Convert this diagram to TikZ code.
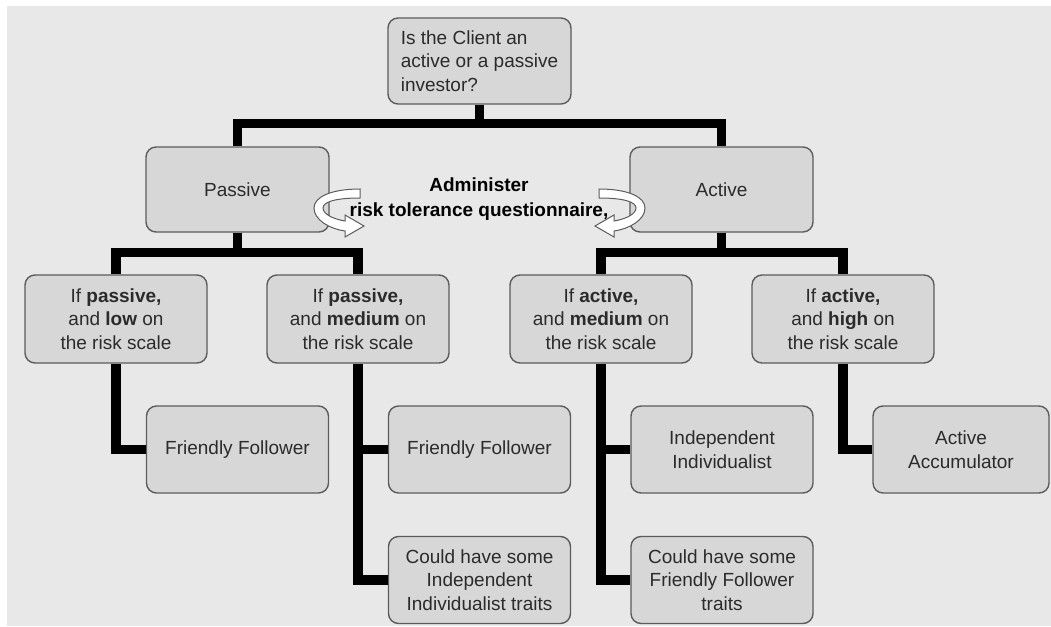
\documentclass[tikz,border=0pt]{standalone}
\usepackage{fontspec}
\setmainfont{Liberation Sans}
\definecolor{bggray}{HTML}{E8E8E8}
\definecolor{boxgray}{HTML}{D7D7D7}
\definecolor{edgegray}{HTML}{5C5C5C}
\definecolor{inkgray}{HTML}{2B2B2B}
\newcommand{\curlarrow}{(360,189) .. controls (331,189) and (314,197) .. (314,208)
      .. controls (314,220) and (330,229) .. (345,231) -- (345,237) -- (364,226)
      -- (345,215) -- (345,221) .. controls (333,219) and (323,214) .. (323,208)
      .. controls (323,202) and (335,198) .. (360,198) -- cycle}
\begin{document}
\begin{tikzpicture}[x=1pt, y=-1pt,
    box/.style={draw=edgegray, line width=1.4pt, fill=boxgray, rounded corners=10pt,
                text=inkgray, align=center, minimum width=182pt, minimum height=87pt,
                inner sep=3pt, font=\fontsize{19}{23.5}\selectfont},
    link/.style={line width=9.5pt},
    curl/.style={draw=edgegray, fill=white, line width=1pt}]
      \useasboundingbox (0,0) rectangle (1051,626);
      \fill [white] (0,0) rectangle (1051,626);
      \fill [bggray] (7,6) rectangle (1051,626);
      \node (client) [box, align=left, minimum width=183pt, minimum height=86pt]
            at (479.5,61) {Is the Client an\\active or a passive\\investor?};
      \node (passive) [box, minimum width=183pt, minimum height=85pt] at (237.5,189.5) {Passive};
      \node (active) [box, minimum width=183pt, minimum height=85pt] at (721.5,189.5) {Active};
      \node (plow) [box, minimum height=88pt] at (116,319) {If \textbf{passive,}\\and \textbf{low} on\\the risk scale};
      \node (pmed) [box, minimum height=88pt] at (358,319) {If \textbf{passive,}\\and \textbf{medium} on\\the risk scale};
      \node (amed) [box, minimum height=88pt] at (601,319) {If \textbf{active,}\\and \textbf{medium} on\\the risk scale};
      \node (ahigh) [box, minimum height=88pt] at (843,319) {If \textbf{active,}\\and \textbf{high} on\\the risk scale};
      \node (friendlyA) [box] at (237.5,449.5) {Friendly Follower};
      \node (friendlyB) [box] at (479.5,449.5) {Friendly Follower};
      \node (someind) [box] at (479.5,580) {Could have some\\Independent\\Individualist traits};
      \node (indep) [box] at (722,449.5) {Independent\\Individualist};
      \node (somefri) [box] at (722,580) {Could have some\\Friendly Follower\\traits};
      \node (accum) [box, minimum width=176pt] at (961,449.5) {Active\\Accumulator};
      \node (admin) [font=\bfseries\fontsize{19}{25}\selectfont, align=center, text=black]
            at (479,199) {Administer\\risk tolerance questionnaire,};
      \draw[link] (client.south) -- ++(0,19) -| (passive.north)
                  (client.south) -- ++(0,19) -| (active.north);
      \draw[link] (passive.south) -- ++(0,20) -| (plow.north)
                  (passive.south) -- ++(0,20) -| (pmed.north)
                  (active.south) -- ++(0,20) -| (amed.north)
                  (active.south) -- ++(0,20) -| (ahigh.north);
      \draw[link] (plow.south) |- (friendlyA.west)
                  (pmed.south) |- (friendlyB.west)
                  (pmed.south) |- (someind.west)
                  (amed.south) |- (indep.west)
                  (amed.south) |- (somefri.west)
                  (ahigh.south) |- (accum.west);
      \filldraw[curl] \curlarrow;
      \begin{scope}[xshift=959pt, xscale=-1]
        \filldraw[curl] \curlarrow;
      \end{scope}
\end{tikzpicture}
\end{document}
